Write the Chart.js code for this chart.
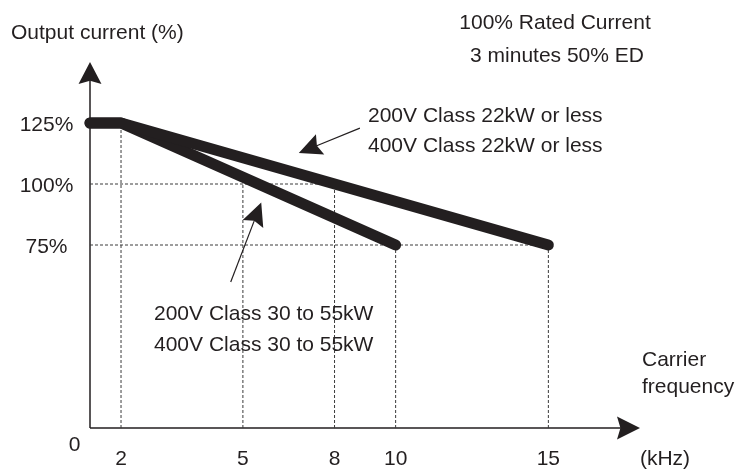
<!DOCTYPE html>
<html>
<head>
<meta charset="utf-8">
<script src="https://cdn.jsdelivr.net/npm/chart.js@4/dist/chart.umd.min.js"></script>
<style>
  body { margin: 0; background: #fff; }
  canvas { display: block; }
</style>
</head>
<body>
<canvas id="derating" width="736" height="472"></canvas>
<script>
// carrier frequency (kHz) vs allowed output current (%)
const upperX = [0, 2, 15];
const upperY = [125, 125, 75];
const lowerX = [0, 2, 10];
const lowerY = [125, 125, 75];

const xTicks = [2, 5, 8, 10, 15];
const xDropTo = [125, 100, 100, 75, 75];
const yTicks = [75, 100, 125];
const yGuideEnds = [15, 8, 0];

const xMax = 18;
const yMax = 150;

// the drawing squeezes the 0-2 kHz stretch, so the x axis is piecewise linear
const xKnots = [0, 2, 5, 18];
const xKnotFrac = [0, 0.0564, 0.278, 1];

const ink = "#231f20";
const font = '21px "Liberation Sans", Arial, sans-serif';

class BrokenLinearScale extends Chart.LinearScale {
    getPixelForValue(value) {
        let i = 0;
        while (i < xKnots.length - 2 && value > xKnots[i + 1]) i++;
        const t = xKnotFrac[i] + (value - xKnots[i]) / (xKnots[i + 1] - xKnots[i]) * (xKnotFrac[i + 1] - xKnotFrac[i]);
        return this.getPixelForDecimal(t);
    }
    getValueForPixel(pixel) {
        const t = this.getDecimalForPixel(pixel);
        let i = 0;
        while (i < xKnotFrac.length - 2 && t > xKnotFrac[i + 1]) i++;
        return xKnots[i] + (t - xKnotFrac[i]) / (xKnotFrac[i + 1] - xKnotFrac[i]) * (xKnots[i + 1] - xKnots[i]);
    }
}
BrokenLinearScale.id = "brokenLinear";
BrokenLinearScale.defaults = Chart.LinearScale.defaults;
Chart.register(BrokenLinearScale);

const toPoints = (xs, ys) => xs.map((x, i) => ({ x: x, y: ys[i] }));

const thick = (data) => ({
    data: data,
    borderColor: ink,
    borderWidth: 11,
    borderCapStyle: "round",
    borderJoinStyle: "round",
    pointRadius: 0,
    tension: 0,
    clip: false,
});

const guide = (data) => ({
    data: data,
    borderColor: "#3a3a3a",
    borderWidth: 1,
    borderDash: [3, 2],
    pointRadius: 0,
    tension: 0,
    clip: false,
});

const datasets = [thick(toPoints(upperX, upperY)), thick(toPoints(lowerX, lowerY))];
xTicks.forEach((x, i) => {
    datasets.push(guide([{ x: x, y: 0 }, { x: x, y: xDropTo[i] }]));
});
yTicks.forEach((y, i) => {
    if (yGuideEnds[i] > 0) datasets.push(guide([{ x: 0, y: y }, { x: yGuideEnds[i], y: y }]));
});

// annotation arrows, tail -> tip, in data units
const arrows = [
    { from: [8.83, 122.9], to: [6.83, 112.7] },
    { from: [4.7, 59.8], to: [5.6, 92.4] },
];

const notes = [
    ["Output current (%)", 11, 39, "left"],
    ["100% Rated Current", 555, 29, "center"],
    ["3 minutes 50% ED", 557, 62, "center"],
    ["200V Class 22kW or less", 368, 122, "left"],
    ["400V Class 22kW or less", 368, 152, "left"],
    ["200V Class 30 to 55kW", 154, 320, "left"],
    ["400V Class 30 to 55kW", 154, 351, "left"],
    ["Carrier", 642, 366, "left"],
    ["frequency", 642, 393, "left"],
    ["0", 74.5, 451, "center"],
    ["(kHz)", 665, 465, "center"],
];

function arrowHead(ctx, tipX, tipY, dx, dy, len, half) {
    const n = Math.hypot(dx, dy);
    const ux = dx / n, uy = dy / n;
    const bx = tipX - ux * len, by = tipY - uy * len;
    ctx.beginPath();
    ctx.moveTo(tipX, tipY);
    ctx.lineTo(bx - uy * half, by + ux * half);
    ctx.lineTo(tipX - ux * len * 0.85, tipY - uy * len * 0.85);
    ctx.lineTo(bx + uy * half, by - ux * half);
    ctx.closePath();
    ctx.fill();
}

const decor = {
    id: "decor",
    beforeDatasetsDraw(chart) {
        const { ctx, scales } = chart;
        const xs = scales.x, ys = scales.y;
        const x0 = xs.getPixelForValue(0), y0 = ys.getPixelForValue(0);
        const xEnd = xs.getPixelForValue(xMax), yEnd = ys.getPixelForValue(yMax);
        ctx.save();
        ctx.strokeStyle = ink;
        ctx.fillStyle = ink;
        ctx.lineWidth = 1.5;
        ctx.beginPath();
        ctx.moveTo(x0, y0);
        ctx.lineTo(x0, yEnd + 10);
        ctx.moveTo(x0, y0);
        ctx.lineTo(xEnd - 10, y0);
        ctx.stroke();
        arrowHead(ctx, x0, yEnd, 0, -1, 22, 11.5);
        arrowHead(ctx, xEnd, y0, 1, 0, 23, 11.5);
        ctx.restore();
    },
    afterDraw(chart) {
        const { ctx, scales } = chart;
        const xs = scales.x, ys = scales.y;
        ctx.save();
        ctx.fillStyle = ink;
        ctx.strokeStyle = ink;
        ctx.font = font;
        ctx.textBaseline = "alphabetic";

        ctx.textAlign = "center";
        yTicks.forEach((v) => ctx.fillText(v + "%", 46.5, ys.getPixelForValue(v) + 8));
        xTicks.forEach((v) => ctx.fillText(String(v), xs.getPixelForValue(v), 465));

        notes.forEach(([text, x, y, align]) => {
            ctx.textAlign = align;
            ctx.fillText(text, x, y);
        });

        ctx.lineWidth = 1.2;
        arrows.forEach((a) => {
            const tx = xs.getPixelForValue(a.from[0]), ty = ys.getPixelForValue(a.from[1]);
            const hx = xs.getPixelForValue(a.to[0]), hy = ys.getPixelForValue(a.to[1]);
            const dx = hx - tx, dy = hy - ty;
            const n = Math.hypot(dx, dy);
            ctx.beginPath();
            ctx.moveTo(tx, ty);
            ctx.lineTo(hx - dx / n * 18, hy - dy / n * 18);
            ctx.stroke();
            arrowHead(ctx, hx, hy, dx, dy, 23, 11);
        });
        ctx.restore();
    },
};

new Chart(document.getElementById("derating"), {
    type: "line",
    data: { datasets: datasets },
    options: {
        responsive: false,
        animation: false,
        events: [],
        layout: { padding: { left: 90, right: 96, top: 62, bottom: 44 } },
        plugins: {
            legend: { display: false },
            tooltip: { enabled: false },
        },
        scales: {
            x: { type: "brokenLinear", min: 0, max: xMax, display: false },
            y: { type: "linear", min: 0, max: yMax, display: false },
        },
    },
    plugins: [decor],
});
</script>
</body>
</html>
